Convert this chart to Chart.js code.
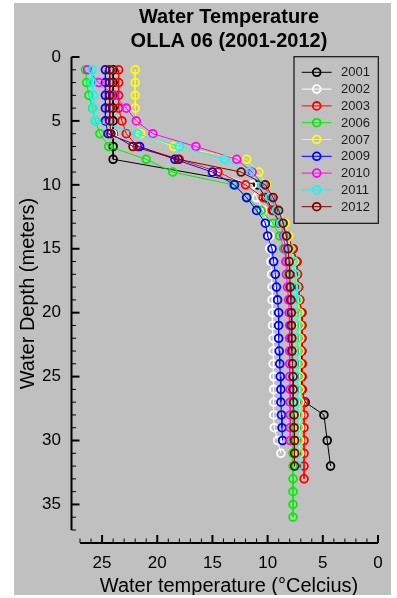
<!DOCTYPE html>
<html><head><meta charset="utf-8">
<script src="https://cdn.jsdelivr.net/npm/chart.js@4"></script>
<style>
html,body{margin:0;padding:0;background:#fff;}
#wrap{position:absolute;left:14px;top:3px;width:377px;height:592px;background:#c0c0c0;}
canvas{display:block}
</style></head><body>
<div id="wrap"><canvas id="c" width="377" height="592"></canvas></div>
<script>
const years = ['2001','2002','2003','2006','2007','2009','2010','2011','2012'];
const colors = ['#000000','#ffffff','#ff0000','#00ee00','#ffff00','#0000ff','#ff00ff','#00ffff','#800000'];

const depth2001 = [1,2,3,4,5,6,7,8,10,11,12,13,14,15,16,17,18,19,20,21,22,23,24,25,26,27,28,30,32];
const temp2001  = [24.0,24.0,24.0,24.0,24.0,24.0,24.0,24.0,10.9,10.2,9.5,8.9,8.2,7.7,7.35,7.3,7.2,7.1,6.9,6.9,6.9,6.9,6.9,6.9,6.9,6.6,4.9,4.6,4.3];

const depth2002 = [1,2,3,4,5,6,7,8,9,10,11,12,13,14,15,16,17,18,19,20,21,22,23,24,25,26,27,28,29,30,31];
const temp2002  = [24.3,24.3,24.3,24.3,24.3,24.05,22.0,18.0,14.8,11.4,11.0,10.4,10.05,9.8,9.8,9.7,9.65,9.6,9.6,9.55,9.55,9.5,9.5,9.5,9.45,9.45,9.45,9.45,9.4,9.1,8.8];

const depth2003 = [1,2,3,4,5,6,7,8,9,10,11,12,13,14,15,16,17,18,19,20,21,22,23,24,25,26,27,28,29,30,31,32,33];
const temp2003  = [23.5,23.5,23.5,23.5,23.2,22.8,21.8,18.0,14.5,12.0,10.4,9.6,8.9,8.2,7.7,7.35,7.3,7.2,7.1,6.9,6.9,6.9,6.9,6.85,6.85,6.85,6.7,6.7,6.7,6.7,6.7,6.7,6.7];

const depth2006 = [1,2,3,4,5,6,7,8,9,10,11,12,13,14,15,16,17,18,19,20,21,22,23,24,25,26,27,28,29,30,31,32,33,34,35,36];
const temp2006  = [26.5,26.4,26.2,25.85,25.6,25.2,24.4,21.0,18.6,13.1,11.9,10.6,9.5,8.9,8.55,8.3,8.1,8.0,7.9,7.8,7.8,7.75,7.75,7.7,7.7,7.7,7.7,7.7,7.7,7.7,7.7,7.7,7.7,7.7,7.7,7.7];

const depth2007 = [1,2,3,4,5,6,7,8,9,10,11,12,13,14,15,16,17,18,19,20,21,22,23,24,25,26,27,28,29,30,31];
const temp2007  = [22.0,22.0,22.0,22.0,21.9,21.5,18.5,11.9,10.8,10.1,9.5,9.0,8.4,8.1,7.95,7.6,7.45,7.35,7.25,7.15,7.1,7.1,7.1,7.1,7.1,7.1,7.1,7.1,7.1,7.1,7.1];

const depth2009 = [1,2,3,4,5,6,7,8,9,10,11,12,13,14,15,16,17,18,19,20,21,22,23,24,25,26,27,28,29,30];
const temp2009  = [24.7,24.7,24.7,24.7,24.7,24.45,21.6,18.4,15.0,13.0,11.9,11.0,10.2,10.0,9.6,9.45,9.3,9.2,9.1,9.0,9.0,9.0,8.95,8.9,8.85,8.8,8.8,8.75,8.7,8.65];

const depth2010 = [1,2,3,4,5,6,7,8,9,10,11,12,13,14,15,16,17,18,19,20,21,22,23,24,25,26,27,28,29,30];
const temp2010  = [26.3,25.3,23.9,22.8,21.9,20.4,16.5,12.8,11.4,10.4,9.7,9.2,8.8,8.55,8.4,8.35,8.3,8.2,8.1,8.05,8.0,8.0,8.0,8.0,8.0,7.95,7.95,7.95,7.95,7.95];

const depth2011 = [1,2,3,4,5,6,7,8,9,10,11,12,13,14,15,16,17,18,19,20,21,22,23,24,25,26,27,28,29,30,31,32];
const temp2011  = [25.9,25.9,25.8,25.8,25.6,21.8,18.0,13.9,11.6,10.5,9.8,9.2,8.8,8.4,8.0,7.7,7.5,7.4,7.35,7.3,7.3,7.3,7.3,7.3,7.3,7.3,7.25,7.25,7.25,7.25,7.25,7.25];

const depth2012 = [1,2,3,4,5,6,7,8,9,10,11,12,13,14,15,16,17,18,19,20,21,22,23,24,25,26,27,28,29,30,31,32];
const temp2012  = [24.3,24.3,24.3,24.3,24.3,24.2,22.2,18.1,12.4,10.2,9.5,9.0,8.6,8.3,8.15,8.05,8.0,7.95,7.9,7.85,7.85,7.8,7.8,7.75,7.7,7.7,7.65,7.6,7.6,7.55,7.55,7.55];

const xTickValues = [25,20,15,10,5,0];
const yTickValues = [0,5,10,15,20,25,30,35];

const allDepths = [depth2001,depth2002,depth2003,depth2006,depth2007,depth2009,depth2010,depth2011,depth2012];
const allTemps  = [temp2001,temp2002,temp2003,temp2006,temp2007,temp2009,temp2010,temp2011,temp2012];

const FONT = "'Liberation Sans', Arial, sans-serif";

const datasets = years.map((y,i)=>({
  label: y,
  data: allTemps[i].map((t,k)=>({x:t, y:allDepths[i][k]})),
  showLine: true,
  borderColor: colors[i],
  borderWidth: 1,
  pointRadius: 3.9,
  pointBorderWidth: 1.8,
  pointBorderColor: colors[i],
  pointBackgroundColor: 'rgba(0,0,0,0)',
  order: years.length - i,
  clip: false
}));

const axesPlugin = {
  id: 'axesDeco',
  afterDraw(chart){
    const ctx = chart.ctx, xs = chart.scales.x, ys = chart.scales.y, ca = chart.chartArea;
    const ax = ca.left - 8.5;
    const ay = ca.bottom + 13;
    ctx.save();
    ctx.strokeStyle = '#000';
    ctx.lineWidth = 2;
    ctx.beginPath();
    ctx.moveTo(ax, ys.getPixelForValue(0)); ctx.lineTo(ax, ys.getPixelForValue(37));
    ctx.moveTo(xs.getPixelForValue(27), ay); ctx.lineTo(xs.getPixelForValue(0), ay);
    ctx.stroke();
    for (let d = 0; d <= 37; d++) {
      const py = ys.getPixelForValue(d);
      const major = d % 5 === 0;
      ctx.lineWidth = major ? 2 : 1;
      ctx.beginPath(); ctx.moveTo(ax, py); ctx.lineTo(ax + (major ? 8 : 4.5), py); ctx.stroke();
    }
    for (let t = 0; t <= 27; t++) {
      const px = xs.getPixelForValue(t);
      const major = t % 5 === 0;
      ctx.lineWidth = major ? 2 : 1;
      ctx.beginPath(); ctx.moveTo(px, ay); ctx.lineTo(px, ay - (major ? 8 : 4.5)); ctx.stroke();
    }
    // legend
    const lx = 280, ly = 53.7, lw = 84.3, lh = 166.6;
    ctx.lineWidth = 1.2;
    ctx.strokeStyle = '#111';
    ctx.strokeRect(lx, ly, lw, lh);
    ctx.font = "13px " + FONT;
    ctx.textBaseline = 'middle';
    ctx.textAlign = 'left';
    chart.data.datasets.forEach((ds, i) => {
      const yy = 69.3 + i * 16.8;
      ctx.strokeStyle = ds.borderColor;
      ctx.lineWidth = 1;
      ctx.beginPath(); ctx.moveTo(287.7, yy); ctx.lineTo(317.7, yy); ctx.stroke();
      ctx.lineWidth = 1.8;
      ctx.beginPath(); ctx.arc(302.7, yy, 3.9, 0, Math.PI * 2); ctx.stroke();
      ctx.fillStyle = '#1a1a1a';
      ctx.fillText(ds.label, 327, yy + 0.5);
    });
    ctx.restore();
  }
};

new Chart(document.getElementById('c'), {
  type: 'scatter',
  data: { datasets },
  options: {
    responsive: false,
    animation: false,
    devicePixelRatio: 1,
    layout: { padding: { top: 0, right: 13, left: 0, bottom: 0 } },
    plugins: {
      legend: { display: false },
      tooltip: { enabled: false },
      title: {
        display: true,
        text: ['Water Temperature', 'OLLA 06 (2001-2012)'],
        color: '#000',
        font: { family: FONT, size: 20, weight: 'bold', lineHeight: 1.2 },
        padding: { top: 2.5, bottom: 3.5 },
        fullSize: false
      }
    },
    scales: {
      x: {
        type: 'linear', reverse: true, min: 0, max: 27,
        grid: { display: false, drawTicks: true, tickLength: 21, color: 'rgba(0,0,0,0)' },
        border: { display: false },
        afterBuildTicks: s => { s.ticks = xTickValues.map(v => ({ value: v })); },
        afterFit: s => { s.height = 65; },
        ticks: { color: '#000', font: { family: FONT, size: 17 }, padding: 2, maxRotation: 0 },
        title: { display: true, text: 'Water temperature (°Celcius)', color: '#000',
          font: { family: FONT, size: 20, lineHeight: 1 }, padding: { top: 0, bottom: -1.7 } }
      },
      y: {
        type: 'linear', reverse: true, min: 0, max: 37,
        grid: { display: false, drawTicks: true, tickLength: 17, color: 'rgba(0,0,0,0)' },
        border: { display: false },
        afterBuildTicks: s => { s.ticks = yTickValues.map(v => ({ value: v })); },
        afterFit: s => { s.width = 66; },
        ticks: { color: '#000', font: { family: FONT, size: 17 }, padding: 2 },
        title: { display: true, text: 'Water Depth (meters)', color: '#000',
          font: { family: FONT, size: 20, lineHeight: 1.2 }, padding: { top: 2.5, bottom: 0 } }
      }
    }
  },
  plugins: [axesPlugin]
});
</script>
</body></html>
